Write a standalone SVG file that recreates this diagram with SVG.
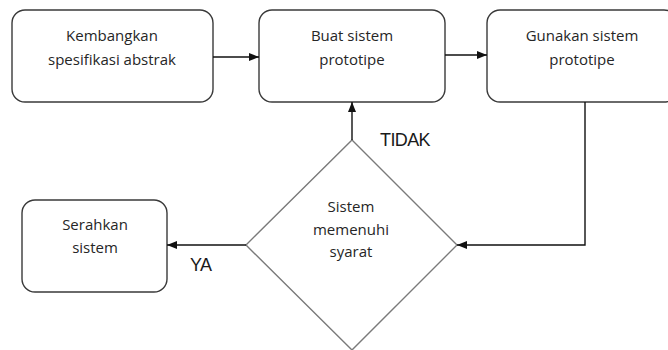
<svg xmlns="http://www.w3.org/2000/svg" width="668" height="350" viewBox="0 0 668 350">
  <style>
    .box { fill: #ffffff; stroke: #3a3a3a; stroke-width: 1.4; }
    .dia { fill: #ffffff; stroke: #7a7a7a; stroke-width: 1.4; }
    .lbl { font-family: "Open Sans", "Liberation Sans", sans-serif; font-size: 15px; fill: #262626; text-anchor: middle; }
    .tag { font-family: "Liberation Sans", Arial, sans-serif; font-size: 18px; fill: #1a1a1a; letter-spacing: -0.6px; }
    .edge { fill: none; stroke: #111111; stroke-width: 1.4; }
  </style>
  <defs>
    <marker id="arrow" viewBox="0 0 10 8" refX="10" refY="4" markerWidth="10" markerHeight="8" markerUnits="userSpaceOnUse" orient="auto">
      <path d="M0,0 L10,4 L0,8 Z" fill="#111111"/>
    </marker>
  </defs>
  <rect width="668" height="350" fill="#ffffff"/>

  <g id="kembangkan">
    <rect class="box" x="12" y="10" width="201" height="92" rx="13"/>
    <text class="lbl" x="112" y="41">Kembangkan</text>
    <text class="lbl" x="112" y="65">spesifikasi abstrak</text>
  </g>

  <g id="buat-prototipe">
    <rect class="box" x="259" y="10" width="186" height="92" rx="13"/>
    <text class="lbl" x="352" y="41">Buat sistem</text>
    <text class="lbl" x="352" y="65">prototipe</text>
  </g>

  <g id="gunakan-prototipe">
    <rect class="box" x="487" y="10" width="190" height="92" rx="13"/>
    <text class="lbl" x="582" y="41">Gunakan sistem</text>
    <text class="lbl" x="582" y="65">prototipe</text>
  </g>

  <g id="cek-syarat">
    <polygon class="dia" points="352,140 457,245 352,350 246,245"/>
    <text class="lbl" x="351" y="212">Sistem</text>
    <text class="lbl" x="351" y="235">memenuhi</text>
    <text class="lbl" x="351" y="257">syarat</text>
  </g>

  <g id="serahkan">
    <rect class="box" x="22" y="200" width="145" height="92" rx="13"/>
    <text class="lbl" x="95" y="230">Serahkan</text>
    <text class="lbl" x="95" y="253">sistem</text>
  </g>

  <g id="connectors">
    <line class="edge" x1="213" y1="57" x2="259" y2="57" marker-end="url(#arrow)"/>
    <line class="edge" x1="445" y1="55" x2="487" y2="55" marker-end="url(#arrow)"/>
    <polyline class="edge" points="585,102 585,245 457,245" marker-end="url(#arrow)"/>
    <line class="edge" x1="352" y1="140" x2="352" y2="102" marker-end="url(#arrow)"/>
    <line class="edge" x1="246" y1="245" x2="167" y2="245" marker-end="url(#arrow)"/>
    <text class="tag" x="380" y="146">TIDAK</text>
    <text class="tag" x="190" y="271">YA</text>
  </g>
</svg>
